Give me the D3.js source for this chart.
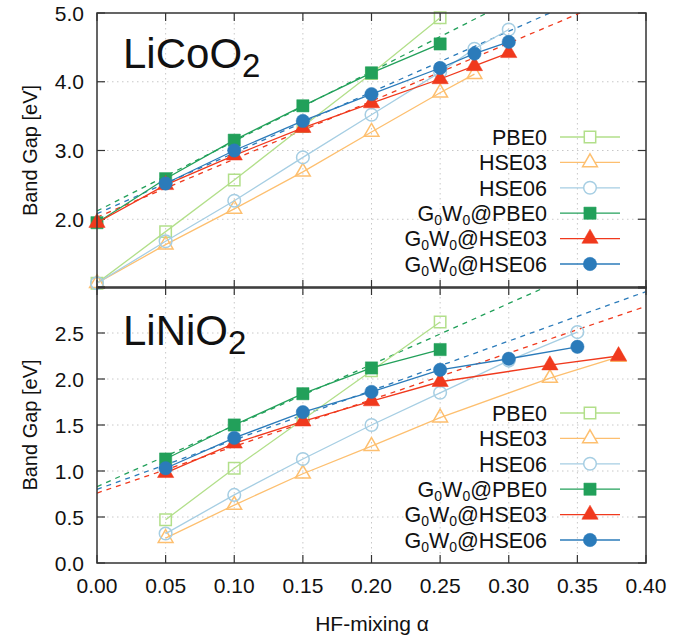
<!DOCTYPE html>
<html><head><meta charset="utf-8">
<script src="https://cdn.jsdelivr.net/npm/d3@7"></script>
<style>
body{margin:0;background:#fff}
text{font-family:"Liberation Sans",Arial,Helvetica,sans-serif;fill:#111}
</style>
</head><body>
<svg id="c" width="691" height="641"></svg>
<script>
// ---------- data ----------
const xTicks = [0.00, 0.05, 0.10, 0.15, 0.20, 0.25, 0.30, 0.35, 0.40];
const yTicksCo = [2.0, 3.0, 4.0, 5.0];
const yTicksNi = [0.0, 0.5, 1.0, 1.5, 2.0, 2.5];
const seriesNames = ["PBE0", "HSE03", "HSE06", "G0W0@PBE0", "G0W0@HSE03", "G0W0@HSE06"];

// LiCoO2
const coPBE0_a  = [0, 0.05, 0.10, 0.15, 0.20, 0.25];
const coPBE0_g  = [1.07, 1.82, 2.57, 3.35, 4.12, 4.93];
const coHSE03_a = [0, 0.05, 0.10, 0.15, 0.20, 0.25, 0.275];
const coHSE03_g = [1.07, 1.63, 2.15, 2.69, 3.27, 3.84, 4.11];
const coHSE06_a = [0, 0.05, 0.10, 0.15, 0.20, 0.25, 0.275, 0.30];
const coHSE06_g = [1.07, 1.68, 2.27, 2.90, 3.52, 4.14, 4.48, 4.76];
const coGWPBE0_a  = [0, 0.05, 0.10, 0.15, 0.20, 0.25];
const coGWPBE0_g  = [1.95, 2.59, 3.15, 3.65, 4.13, 4.55];
const coGWHSE03_a = [0, 0.05, 0.10, 0.15, 0.20, 0.25, 0.275, 0.30];
const coGWHSE03_g = [1.95, 2.50, 2.93, 3.33, 3.69, 4.04, 4.23, 4.42];
const coGWHSE06_a = [0.05, 0.10, 0.15, 0.20, 0.25, 0.275, 0.30];
const coGWHSE06_g = [2.52, 3.00, 3.43, 3.82, 4.20, 4.41, 4.58];
// linear fits (dashed), endpoints [alpha, gap]
const coFitPBE0  = [[0, 2.12], [0.284, 5.0]];
const coFitHSE03 = [[0, 2.03], [0.352, 5.0]];
const coFitHSE06 = [[0, 2.08], [0.330, 5.0]];

// LiNiO2
const niPBE0_a  = [0.05, 0.10, 0.15, 0.20, 0.25];
const niPBE0_g  = [0.47, 1.03, 1.56, 2.09, 2.62];
const niHSE03_a = [0.05, 0.10, 0.15, 0.20, 0.25, 0.33, 0.38];
const niHSE03_g = [0.27, 0.63, 0.97, 1.27, 1.58, 2.01, 2.24];
const niHSE06_a = [0.05, 0.10, 0.15, 0.20, 0.25, 0.30, 0.35];
const niHSE06_g = [0.32, 0.74, 1.13, 1.50, 1.85, 2.20, 2.51];
const niGWPBE0_a  = [0.05, 0.10, 0.15, 0.20, 0.25];
const niGWPBE0_g  = [1.13, 1.50, 1.84, 2.12, 2.32];
const niGWHSE03_a = [0.05, 0.10, 0.15, 0.20, 0.25, 0.33, 0.38];
const niGWHSE03_g = [0.98, 1.30, 1.54, 1.76, 1.97, 2.15, 2.25];
const niGWHSE06_a = [0.05, 0.10, 0.15, 0.20, 0.25, 0.30, 0.35];
const niGWHSE06_g = [1.03, 1.36, 1.64, 1.86, 2.10, 2.22, 2.35];
const niFitPBE0  = [[0, 0.83], [0.327, 3.0]];
const niFitHSE03 = [[0, 0.76], [0.40, 2.79]];
const niFitHSE06 = [[0, 0.80], [0.40, 2.95]];

// ---------- styles ----------
const colors = ["#b2df8a", "#fdbf6f", "#a6cee3", "#22a05a", "#f0391d", "#2b7bba"];
const shapes = [d3.symbolSquare, d3.symbolTriangle, d3.symbolCircle, d3.symbolSquare, d3.symbolTriangle, d3.symbolCircle];
const sizes  = [130, 95, 125, 150, 115, 140];
const filled = [false, false, false, true, true, true];

const svg = d3.select("#c");
const x = d3.scaleLinear().domain([0, 0.4]).range([97, 646]);

const panels = [
  {title: "LiCoO", dom: [1, 5], rng: [288, 13], ticks: yTicksCo, tY: 68,
   series: [[coPBE0_a, coPBE0_g], [coHSE03_a, coHSE03_g], [coHSE06_a, coHSE06_g],
            [coGWPBE0_a, coGWPBE0_g], [coGWHSE03_a, coGWHSE03_g], [coGWHSE06_a, coGWHSE06_g]],
   fits: [coFitPBE0, coFitHSE03, coFitHSE06], legY: 137},
  {title: "LiNiO", dom: [0, 3], rng: [563, 287], ticks: yTicksNi, tY: 345,
   series: [[niPBE0_a, niPBE0_g], [niHSE03_a, niHSE03_g], [niHSE06_a, niHSE06_g],
            [niGWPBE0_a, niGWPBE0_g], [niGWHSE03_a, niGWHSE03_g], [niGWHSE06_a, niGWHSE06_g]],
   fits: [niFitPBE0, niFitHSE03, niFitHSE06], legY: 413}
];

function labelName(sel, name) {
  if (name.startsWith("G0W0")) {
    sel.append("tspan").text("G");
    sel.append("tspan").attr("font-size", 14).attr("dy", 4).text("0");
    sel.append("tspan").attr("dy", -4).text("W");
    sel.append("tspan").attr("font-size", 14).attr("dy", 4).text("0");
    sel.append("tspan").attr("dy", -4).text(name.slice(4));
  } else sel.text(name);
}

panels.forEach((p, pi) => {
  const y = d3.scaleLinear().domain(p.dom).range(p.rng);
  const g = svg.append("g");
  const x0 = x.range()[0], x1 = x.range()[1], yT = p.rng[1], yB = p.rng[0];
  const clipId = "clip" + pi;
  svg.append("clipPath").attr("id", clipId).append("rect")
    .attr("x", x0).attr("y", yT).attr("width", x1 - x0).attr("height", yB - yT);

  // grid
  g.append("g").selectAll("line").data(xTicks.slice(1, -1)).join("line")
    .attr("x1", d => x(d)).attr("x2", d => x(d)).attr("y1", yT).attr("y2", yB)
    .attr("stroke", "#c8c8c8").attr("stroke-width", 1).attr("stroke-dasharray", "1.5,3.5");
  g.append("g").selectAll("line").data(p.ticks.filter(v => v > p.dom[0] && v < p.dom[1])).join("line")
    .attr("x1", x0).attr("x2", x1).attr("y1", d => y(d)).attr("y2", d => y(d))
    .attr("stroke", "#c8c8c8").attr("stroke-width", 1).attr("stroke-dasharray", "1.5,3.5");

  // inward ticks on all four sides
  const tl = 8;
  const tk = g.append("g").attr("stroke", "#333").attr("stroke-width", 1.2);
  xTicks.forEach(v => {
    tk.append("line").attr("x1", x(v)).attr("x2", x(v)).attr("y1", yB).attr("y2", yB - tl);
    tk.append("line").attr("x1", x(v)).attr("x2", x(v)).attr("y1", yT).attr("y2", yT + tl);
  });
  d3.range(p.dom[0], p.dom[1] + 1e-9, pi === 0 ? 1 : 0.5).forEach(v => {
    tk.append("line").attr("x1", x0).attr("x2", x0 + tl).attr("y1", y(v)).attr("y2", y(v));
    tk.append("line").attr("x1", x1).attr("x2", x1 - tl).attr("y1", y(v)).attr("y2", y(v));
  });

  // y tick labels
  g.append("g").selectAll("text").data(p.ticks).join("text")
    .attr("x", 84).attr("y", d => y(d)).attr("dy", "0.36em")
    .attr("text-anchor", "end").attr("font-size", 21).text(d => d.toFixed(1));

  // y axis label
  g.append("text").attr("transform", `translate(37,${(yT + yB) / 2}) rotate(-90)`)
    .attr("text-anchor", "middle").attr("font-size", 20).text("Band Gap [eV]");

  // title
  const t = g.append("text").attr("x", 123).attr("y", p.tY).attr("font-size", 42);
  t.append("tspan").text(p.title);
  t.append("tspan").attr("font-size", 33).attr("dy", 9).text("2");

  // dashed fits
  const line = d3.line().x(d => x(d[0])).y(d => y(d[1]));
  const fg = g.append("g").attr("clip-path", `url(#${clipId})`);
  p.fits.forEach((f, i) => {
    fg.append("path").attr("d", line(f)).attr("fill", "none")
      .attr("stroke", colors[3 + i]).attr("stroke-width", 1.3).attr("stroke-dasharray", "5,5");
  });

  // series
  p.series.forEach((s, i) => {
    const pts = s[0].map((a, k) => [a, s[1][k]]);
    g.append("path").attr("d", line(pts)).attr("fill", "none")
      .attr("clip-path", `url(#${clipId})`)
      .attr("stroke", colors[i]).attr("stroke-width", 1.3);
    const sym = d3.symbol().type(shapes[i]).size(sizes[i]);
    g.append("g").selectAll("path").data(pts).join("path")
      .attr("transform", d => `translate(${x(d[0])},${y(d[1])})`)
      .attr("d", sym())
      .attr("fill", filled[i] ? colors[i] : "none")
      .attr("stroke", colors[i]).attr("stroke-width", filled[i] ? 0.5 : 1.5);
  });

  // legend
  const lg = g.append("g");
  seriesNames.forEach((n, i) => {
    const ly = p.legY + i * 25.4;
    const tt = lg.append("text").attr("x", 547).attr("y", ly).attr("dy", "0.36em")
      .attr("text-anchor", "end").attr("font-size", 21.5);
    labelName(tt, n);
    lg.append("line").attr("x1", 560).attr("x2", 620).attr("y1", ly).attr("y2", ly)
      .attr("stroke", colors[i]).attr("stroke-width", 1.3);
    lg.append("path").attr("transform", `translate(590,${ly})`)
      .attr("d", d3.symbol().type(shapes[i]).size(sizes[i])())
      .attr("fill", filled[i] ? colors[i] : "#fff")
      .attr("stroke", colors[i]).attr("stroke-width", filled[i] ? 0.5 : 1.5);
  });

  // frame
  g.append("rect").attr("x", x0).attr("y", yT).attr("width", x1 - x0).attr("height", yB - yT)
    .attr("fill", "none").attr("stroke", "#333").attr("stroke-width", 1.5);
});

// x tick labels
svg.append("g").selectAll("text").data(xTicks).join("text")
  .attr("x", d => x(d)).attr("y", 585).attr("dy", "0.36em")
  .attr("text-anchor", "middle").attr("font-size", 21).text(d => d.toFixed(2));
svg.append("text").attr("x", 372).attr("y", 623).attr("dy", "0.36em")
  .attr("text-anchor", "middle").attr("font-size", 21).text("HF-mixing α");
</script>
</body></html>
